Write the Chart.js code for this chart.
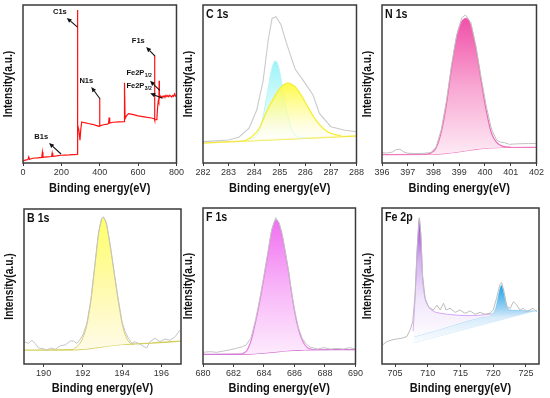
<!DOCTYPE html>
<html>
<head>
<meta charset="utf-8">
<script src="https://cdn.jsdelivr.net/npm/chart.js@4.4.1/dist/chart.umd.min.js"></script>
<style>
  html, body { margin: 0; padding: 0; background: #fff; }
  body { width: 550px; height: 398px; position: relative; overflow: hidden; }
  canvas { position: absolute; }
</style>
</head>
<body>
<canvas id="survey" width="185" height="196" style="left:0px;top:0px"></canvas>
<canvas id="c1s" width="185" height="196" style="left:180px;top:0px"></canvas>
<canvas id="n1s" width="186" height="196" style="left:359px;top:0px"></canvas>
<canvas id="b1s" width="185" height="193" style="left:1px;top:204px"></canvas>
<canvas id="f1s" width="184" height="194" style="left:180px;top:203px"></canvas>
<canvas id="fe2p" width="185" height="194" style="left:359px;top:203px"></canvas>
<script>
// ---- survey spectrum ----
const surveyEnergy = [0, 12, 26, 30, 34, 52, 75, 98, 101, 104,
  125, 149, 152, 155, 175, 196, 220, 240, 262, 281,
  283, 284, 285.5, 291, 297, 301, 306, 320, 340, 360,
  380, 397, 399, 401, 420, 440, 446, 449, 452, 470,
  500, 527, 529, 532, 540, 550, 570, 600, 640, 670,
  684, 685.5, 687.5, 694, 698, 702, 705, 708, 709.6, 711,
  715, 720, 725, 730, 735, 740, 745, 750, 755, 760,
  765, 770, 775, 780, 785, 790, 795, 800];
const surveyCounts = [1.3, 1.8, 2.2, 3.8, 2.4, 3.0, 3.2, 3.5, 6.8, 3.6,
  3.9, 4.1, 6.3, 4.2, 4.5, 4.9, 5.0, 5.1, 5.3, 5.5,
  5.6, 96.8, 24, 21, 14.5, 21, 26, 25.5, 25, 24.5,
  23.8, 23.2, 40.5, 23.5, 24.2, 24.6, 25, 28.8, 25.3, 25.8,
  26, 26.2, 50.8, 28, 30, 31.3, 30.8, 29.8, 29, 28.5,
  28, 67.9, 27, 27.5, 28.5, 36, 39, 38, 52, 41,
  42.5, 41.5, 42.3, 41.6, 42.6, 41.8, 42.8, 42, 42.7, 41.9,
  42.9, 42.3, 41.7, 42.8, 42.2, 43.8, 42.4, 42.1];
const surveyTicks = [0, 200, 400, 600, 800];

// ---- C 1s ----
const c1sEnergy = [282, 282.5, 283, 283.4, 283.8, 284.1, 284.35, 284.55, 284.7, 284.85,
  285.05, 285.25, 285.6, 285.95, 286.3, 286.55, 287, 287.5, 288];
const c1sEnvelope = [13.5, 14, 14.6, 16.3, 22, 33.5, 52, 78, 91.5, 92.6,
  87.5, 76.5, 59.5, 51.5, 43, 31.4, 23, 20.9, 19.8];
const c1sCyanEnergy = [283.8, 284.2, 284.4, 284.55, 284.7, 284.83, 284.95, 285.1, 285.25, 285.4, 285.6, 286.0];
const c1sCyanFit = [14.0, 20.5, 33.5, 47.7, 60.3, 64.6, 61.1, 49.0, 34.9, 24.3, 17.6, 15.6];
const c1sYellowEnergy = [283.6, 283.9, 284.2, 284.5, 284.8, 285.05, 285.32, 285.6, 285.85, 286.1, 286.4, 286.7, 287.0, 287.4];
const c1sYellowFit = [14.0, 16.5, 22, 33.1, 42, 48, 50.6, 48.2, 42.6, 35.4, 27.4, 21.8, 18.7, 17.2];
const c1sBaseEnergy = [282, 288];
const c1sBase = [12.6, 17.1];
const c1sTicks = [282, 283, 284, 285, 286, 287, 288];

// ---- N 1s ----
const n1sEnergy = [396, 396.2, 396.4, 396.55, 396.7, 396.85, 397.0, 397.3, 397.6, 397.9,
  398.1, 398.3, 398.5, 398.7, 398.9, 399.1, 399.24, 399.45, 399.65, 399.85,
  400.05, 400.25, 400.45, 400.6, 400.75, 400.95, 401.1, 401.4, 401.7, 402];
const n1sCounts = [6.5, 6.3, 6.9, 8.5, 8.7, 7.0, 6.2, 6.0, 6.1, 6.6,
  10, 21, 39, 62, 81, 92, 93.7, 89, 74, 54,
  36, 21.5, 14.5, 13.2, 12.9, 11.8, 12.0, 12.2, 12.3, 12.4];
const n1sFitEnergy = [397.7, 397.9, 398.1, 398.3, 398.5, 398.7, 398.9, 399.1, 399.28, 399.45,
  399.65, 399.85, 400.05, 400.25, 400.45, 400.7, 401.0];
const n1sFit = [5.5, 6.3, 9.5, 19.5, 37, 60, 79.5, 89.5, 91.6, 87,
  72, 52, 33, 19, 13, 10.5, 10.0];
const n1sBaseEnergy = [396, 397.9, 398.3, 398.7, 399.2, 399.7, 400.2, 400.7, 402];
const n1sBase = [5.3, 5.4, 5.8, 6.5, 7.6, 8.8, 9.5, 9.8, 9.9];
const n1sTicks = [396, 397, 398, 399, 400, 401, 402];

// ---- B 1s ----
const b1sEnergy = [189.0, 189.23, 189.4, 189.57, 189.74, 190.0, 190.17, 190.34, 190.6, 190.85,
  191.1, 191.36, 191.53, 191.7, 191.87, 192.0, 192.2, 192.4, 192.6, 192.8,
  192.95, 193.05, 193.2, 193.4, 193.6, 193.8, 194.0, 194.15, 194.32, 194.49,
  194.66, 194.91, 195.25, 195.42, 195.67, 195.93, 196.18, 196.44, 196.7, 196.95];
const b1sCounts = [14.4, 13.3, 15.3, 13.3, 10.3, 9.9, 8.8, 10.3, 9.5, 11.8,
  12.3, 14.8, 14.8, 13.3, 16.1, 18.7, 26, 41, 63, 85,
  93.5, 95, 91, 76.5, 59, 42, 27, 21, 16.6, 13.3,
  14.4, 12.7, 10.3, 14.4, 16.6, 14.4, 16.1, 15.3, 17.6, 21.9];
const b1sFitEnergy = [191.5, 191.8, 192.0, 192.2, 192.4, 192.6, 192.8, 192.95, 193.05, 193.2,
  193.4, 193.6, 193.8, 194.0, 194.2, 194.4, 194.6];
const b1sFit = [9.4, 12.5, 17, 25, 40, 62, 84, 93, 94.4, 90,
  75.5, 58, 41, 26, 17.5, 13.5, 12.5];
const b1sBaseEnergy = [189, 191.5, 192.2, 192.8, 193.4, 194.0, 194.6, 195.5, 197];
const b1sBase = [9.0, 9.2, 9.8, 10.8, 11.8, 12.6, 13.0, 13.5, 14.8];
const b1sTicks = [190, 192, 194, 196];

// ---- F 1s ----
const f1sEnergy = [680.0, 680.47, 680.9, 681.32, 681.75, 682.18, 682.6, 682.82, 683.14, 683.45,
  683.7, 684.0, 684.25, 684.5, 684.77, 685.0, 685.2, 685.4, 685.6, 685.8,
  686.0, 686.25, 686.5, 686.75, 686.97, 687.5, 687.93, 688.35, 688.78, 689.2,
  689.63, 690];
const f1sCounts = [7.5, 7.9, 7.5, 8.3, 9.0, 10.0, 11.1, 12.2, 16.5, 28.5,
  40.5, 57, 71.5, 86, 93.8, 90.5, 83, 72, 60.5, 47,
  35, 23.5, 16.5, 13.2, 11, 9.6, 10.5, 9.6, 10, 9.6,
  10.5, 9.6];
const f1sFitEnergy = [682.6, 682.9, 683.2, 683.45, 683.7, 684.0, 684.25, 684.5, 684.77, 685.0,
  685.2, 685.4, 685.6, 685.8, 686.0, 686.25, 686.5, 686.8, 687.2];
const f1sFit = [6.6, 9, 16.5, 27, 39, 55.5, 70, 85, 92.3, 89,
  82, 71, 59.5, 46, 34, 22.5, 15.5, 10.8, 9.3];
const f1sBaseEnergy = [680, 683.0, 683.8, 684.5, 685.2, 685.9, 686.6, 690];
const f1sBase = [6.2, 6.4, 6.9, 7.5, 8.2, 8.8, 9.0, 9.2];
const f1sTicks = [680, 682, 684, 686, 688, 690];

// ---- Fe 2p ----
const fe2pEnergy = [703.1, 703.7, 704.5, 705.2, 706.0, 706.8, 707.3, 707.7, 708.05, 708.4,
  708.7, 708.96, 709.2, 709.6, 710.1, 710.85, 711.4, 711.9, 712.4, 712.8,
  713.4, 714.2, 714.9, 715.7, 716.5, 717.2, 718.0, 718.75, 719.5, 720.0,
  720.5, 721.0, 721.3, 721.65, 722.1, 722.6, 723.1, 723.6, 724.1, 724.6,
  725.1, 725.6, 726.1, 726.65];
const fe2pCounts = [12.2, 14.3, 15.4, 16.0, 16.5, 17.6, 21.9, 27.2, 44.2, 76.3,
  93.8, 82.7, 57, 42, 36.8, 34.6, 37.8, 34.6, 39, 34.6,
  35.7, 33.1, 34.6, 32.5, 34, 31.9, 33.1, 31.9, 32.5, 34.6,
  42, 50.6, 52.3, 46.4, 36.8, 35.7, 40, 37.8, 34.6, 35.7,
  33.5, 34.6, 35.7, 33.5];
const fe32Energy = [707.75, 708.05, 708.4, 708.7, 708.95, 709.2, 709.5, 710.0, 710.8, 712, 714, 716, 718, 719.8];
const fe32Fit = [21, 42, 75, 93, 80, 56, 44, 37.5, 34, 32.5, 31.5, 31, 31.3, 32.2];
const fe12Energy = [707.9, 710, 712, 714, 716, 718, 719.8, 720.4, 720.9, 721.25, 721.6, 722.0, 722.5, 723.5, 725, 726.7];
const fe12Fit = [17.5, 20, 22.5, 25, 27.5, 29.8, 31.8, 36, 46, 50.5, 46, 38, 34.8, 34.4, 34.2, 34];
const feBaseEnergy = [707.8, 726.7];
const feBase = [13.6, 34.4];
const fe2pTicks = [705, 710, 715, 720, 725];

// ---------------------------------------------------------------
const FONT = "'Liberation Sans', Arial, sans-serif";
const SQUEEZE = 0.85;  // bold titles in the figure are narrower than Arial

const pts = (xs, ys) => xs.map((x, i) => ({ x: x, y: ys[i] }));

// vertical gradient between two data values
function vGrad(top, bottom, stops) {
  return (c) => {
    const ch = c.chart;
    if (!ch.chartArea) return stops[0][1];
    const y = ch.scales.y;
    const g = ch.ctx.createLinearGradient(0, y.getPixelForValue(top), 0, y.getPixelForValue(bottom));
    stops.forEach(([o, col]) => g.addColorStop(o, col));
    return g;
  };
}

function squeezedText(ctx, text, x, y, rot, font, align) {
  ctx.save();
  ctx.translate(x, y);
  if (rot) ctx.rotate(rot);
  ctx.scale(SQUEEZE, 1);
  ctx.font = font;
  ctx.textAlign = align;
  ctx.fillText(text, 0, 0);
  ctx.restore();
}

// frame box, axis titles and panel label
const framePlugin = {
  id: 'frame',
  afterDraw(chart, args, opts) {
    const { ctx, chartArea: a } = chart;
    ctx.save();
    ctx.strokeStyle = '#3a3a3a';
    ctx.lineWidth = 1.5;
    ctx.strokeRect(a.left, a.top, a.right - a.left, a.bottom - a.top);
    ctx.fillStyle = '#111';
    ctx.textBaseline = 'middle';
    squeezedText(ctx, 'Binding energy(eV)', (a.left + a.right) / 2, a.bottom + opts.titleGap, 0,
      'bold 13px ' + FONT, 'center');
    squeezedText(ctx, 'Intensity(a.u.)', a.left - 14, (a.top + a.bottom) / 2, -Math.PI / 2,
      'bold 12px ' + FONT, 'center');
    if (opts.label) {
      ctx.textBaseline = 'top';
      squeezedText(ctx, opts.label, a.left + 3, a.top + 3.5, 0, 'bold 12.5px ' + FONT, 'left');
    }
    ctx.restore();
  }
};
Chart.register(framePlugin);

// arrows + labels on the survey
const surveyMarks = [
  { text: 'C1s', sub: '', at: [192, 95.6], from: [284, 86], to: [228, 91.8] },
  { text: 'N1s', sub: '', at: [330, 51.9], from: [402, 40.5], to: [356, 48.1] },
  { text: 'F1s', sub: '', at: [601, 77.2], from: [688, 67.7], to: [642, 73.4] },
  { text: 'Fe2P', sub: '1/2', at: [539, 57], from: [713, 46], to: [662, 52], left: true },
  { text: 'Fe2P', sub: '3/2', at: [539, 48.7], from: [728, 41], to: [663, 44.1], left: true },
  { text: 'B1s', sub: '', at: [95, 16.5], from: [198, 5.7], to: [136, 12.7] }
];
const surveyNotes = {
  id: 'surveyNotes',
  afterDatasetsDraw(chart) {
    if (chart.canvas.id !== 'survey') return;
    const { ctx } = chart;
    const sx = chart.scales.x, sy = chart.scales.y;
    ctx.save();
    ctx.fillStyle = '#111';
    ctx.strokeStyle = '#111';
    ctx.lineWidth = 1.1;
    surveyMarks.forEach(m => {
      const x1 = sx.getPixelForValue(m.from[0]), y1 = sy.getPixelForValue(m.from[1]);
      const x2 = sx.getPixelForValue(m.to[0]), y2 = sy.getPixelForValue(m.to[1]);
      const ang = Math.atan2(y2 - y1, x2 - x1);
      const hl = 5, hw = 2.2;
      const bx = x2 - hl * Math.cos(ang), by = y2 - hl * Math.sin(ang);
      ctx.beginPath();
      ctx.moveTo(x1, y1);
      ctx.lineTo(bx, by);
      ctx.stroke();
      ctx.beginPath();
      ctx.moveTo(x2, y2);
      ctx.lineTo(bx + hw * Math.sin(ang), by - hw * Math.cos(ang));
      ctx.lineTo(bx - hw * Math.sin(ang), by + hw * Math.cos(ang));
      ctx.closePath();
      ctx.fill();

      const tx = sx.getPixelForValue(m.at[0]), ty = sy.getPixelForValue(m.at[1]);
      ctx.font = 'bold 7.5px ' + FONT;
      ctx.textBaseline = 'middle';
      ctx.textAlign = m.left ? 'left' : 'center';
      ctx.fillText(m.text, tx, ty);
      if (m.sub) {
        const w = ctx.measureText(m.text).width;
        ctx.font = 'bold 5px ' + FONT;
        ctx.textAlign = 'left';
        ctx.fillText(m.sub, tx + w + 0.5, ty + 2.5);
      }
    });
    ctx.restore();
  }
};
Chart.register(surveyNotes);

function spectrumChart(id, xMin, xMax, ticks, datasets, label, titleGap) {
  return new Chart(document.getElementById(id), {
    type: 'line',
    data: { datasets: datasets },
    options: {
      responsive: false,
      animation: false,
      events: [],
      layout: { padding: { left: 0, top: 5, right: 5, bottom: 0 } },
      elements: { point: { radius: 0 } },
      plugins: {
        legend: { display: false },
        tooltip: { enabled: false },
        frame: { label: label, titleGap: titleGap }
      },
      scales: {
        x: {
          type: 'linear',
          min: xMin,
          max: xMax,
          afterBuildTicks: (s) => { s.ticks = ticks.map(v => ({ value: v })); },
          afterFit: (s) => { s.height = 33; },
          border: { display: false },
          grid: { drawOnChartArea: false, drawTicks: true, tickLength: 3, color: '#3a3a3a' },
          ticks: { font: { family: FONT, size: 9 }, color: '#333', padding: 1, maxRotation: 0, autoSkip: false }
        },
        y: {
          min: 0,
          max: 100,
          afterFit: (s) => { s.width = 23; },
          border: { display: false },
          grid: { display: false },
          ticks: { display: false }
        }
      }
    }
  });
}

const rawLine = (xs, ys, color, width) => ({
  data: pts(xs, ys), borderColor: color, borderWidth: width, fill: false, tension: 0
});
const fitLine = (xs, ys, color, width, target, bg) => ({
  data: pts(xs, ys), borderColor: color, borderWidth: width,
  fill: target === null ? false : { target: target }, backgroundColor: bg,
  cubicInterpolationMode: 'monotone'
});

// survey
spectrumChart('survey', 0, 800, surveyTicks, [
  rawLine(surveyEnergy, surveyCounts, '#ff1010', 1.2)
], '', 25);

// C 1s
spectrumChart('c1s', 282, 288, c1sTicks, [
  rawLine(c1sEnergy, c1sEnvelope, '#cacaca', 1.1),
  fitLine(c1sYellowEnergy, c1sYellowFit, '#f5ee3a', 1.3, 3,
    vGrad(50.6, 15, [[0, 'rgba(255,250,60,0.95)'], [0.55, 'rgba(255,252,160,0.7)'], [1, 'rgba(255,255,245,0.4)']])),
  fitLine(c1sCyanEnergy, c1sCyanFit, '#b8f4f6', 1, 3,
    vGrad(64.6, 15, [[0, 'rgba(130,240,246,0.8)'], [0.6, 'rgba(205,249,250,0.7)'], [1, 'rgba(255,255,255,0.3)']])),
  fitLine(c1sBaseEnergy, c1sBase, '#f3e84a', 1.5, null, null)
], 'C 1s', 25);

// N 1s
spectrumChart('n1s', 396, 402, n1sTicks, [
  rawLine(n1sEnergy, n1sCounts, '#c0c0c0', 1),
  fitLine(n1sFitEnergy, n1sFit, '#f06ab4', 1.2, 2,
    vGrad(91.6, 6, [[0, '#f050a8'], [0.5, '#f8a6d2'], [1, '#fde9f4']])),
  fitLine(n1sBaseEnergy, n1sBase, '#f07ac0', 1.2, null, null)
], 'N 1s', 25);

// B 1s
spectrumChart('b1s', 189, 197, b1sTicks, [
  rawLine(b1sEnergy, b1sCounts, '#c4c4c4', 1),
  fitLine(b1sFitEnergy, b1sFit, '#d6d070', 1, 2,
    vGrad(94.4, 10, [[0, '#ffff6a'], [0.5, '#fffaa8'], [1, '#fffbe6']])),
  fitLine(b1sBaseEnergy, b1sBase, '#d4cf5a', 1.3, null, null)
], 'B 1s', 24);

// F 1s
spectrumChart('f1s', 680, 690, f1sTicks, [
  rawLine(f1sEnergy, f1sCounts, '#c4c4c4', 1),
  fitLine(f1sFitEnergy, f1sFit, '#e27ae2', 1.1, 2,
    vGrad(92.3, 7, [[0, '#f070f0'], [0.5, '#f8b4f8'], [1, '#fdeafd']])),
  fitLine(f1sBaseEnergy, f1sBase, '#d478d4', 1.3, null, null)
], 'F 1s', 24);

// Fe 2p
spectrumChart('fe2p', 703, 727, fe2pTicks, [
  rawLine(fe2pEnergy, fe2pCounts, '#bdbdbd', 1),
  fitLine(fe32Energy, fe32Fit, 'rgba(170,80,230,0.6)', 0.8, 2,
    vGrad(93, 20, [[0, '#9a2ee0'], [0.35, '#d6b0f2'], [0.7, '#f1e6fb'], [1, '#fcf9fe']])),
  fitLine(fe12Energy, fe12Fit, 'rgba(80,180,235,0.5)', 0.8, 3,
    vGrad(52, 15, [[0, '#0a9fe6'], [0.45, '#9fd2f3'], [0.6, '#d8ecfa'], [1, '#f8fbfe']])),
  fitLine(feBaseEnergy, feBase, 'rgba(200,228,248,0.9)', 0.8, null, null)
], 'Fe 2p', 24);
</script>
</body>
</html>
